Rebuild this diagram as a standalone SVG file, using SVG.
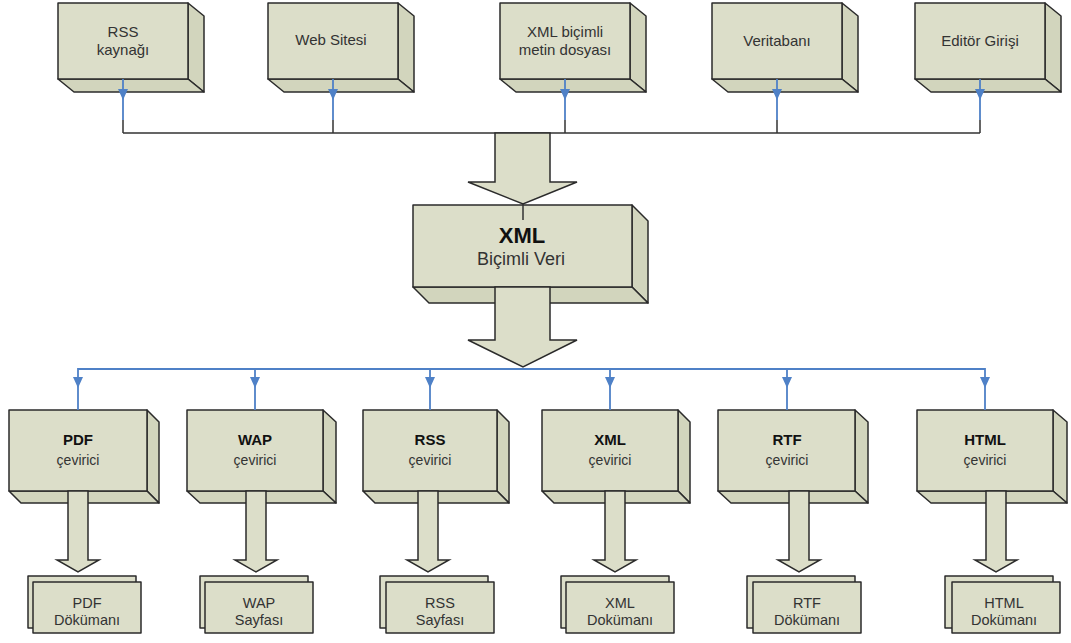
<svg xmlns="http://www.w3.org/2000/svg" width="1071" height="643" viewBox="0 0 1071 643">
<defs>
<style>
.f{fill:#dcdec9;stroke:#2b2b2b;stroke-width:1.5;stroke-linejoin:round}
.s{fill:#d2d5bd;stroke:#2b2b2b;stroke-width:1.5;stroke-linejoin:round}
.t{font-family:"Liberation Sans",Arial,sans-serif;font-size:15px;fill:#333;text-anchor:middle}
.d{font-family:"Liberation Sans",Arial,sans-serif;font-size:14.5px;fill:#333;text-anchor:middle}
.c{font-family:"Liberation Sans",Arial,sans-serif;font-size:14px;fill:#333;text-anchor:middle}
.b{font-family:"Liberation Sans",Arial,sans-serif;font-size:15px;font-weight:bold;fill:#111;text-anchor:middle}
.bl{stroke:#4f81c7;stroke-width:1.8;fill:none}
.k{stroke:#333;stroke-width:1.5;fill:none}
.ah{fill:#4f81c7}
.blk{fill:#dcdec9;stroke:#2b2b2b;stroke-width:1.5;stroke-linejoin:miter}
</style>
</defs>
<rect width="1071" height="643" fill="#fff"/>

<!-- Top source boxes -->
<g id="rss-kaynagi">
<polygon class="s" points="188,3 204,16 204,92 188,79"/>
<polygon class="s" points="58,79 188,79 204,92 74,92"/>
<rect class="f" x="58" y="3" width="130" height="76"/>
<text class="t" x="123" y="37">RSS</text>
<text class="t" x="123" y="55">kaynağı</text>
</g>
<g id="web-sitesi">
<polygon class="s" points="398,3 414,16 414,92 398,79"/>
<polygon class="s" points="268,79 398,79 414,92 284,92"/>
<rect class="f" x="268" y="3" width="130" height="76"/>
<text class="t" x="331" y="45">Web Sitesi</text>
</g>
<g id="xml-metin">
<polygon class="s" points="630,3 646,16 646,92 630,79"/>
<polygon class="s" points="500,79 630,79 646,92 516,92"/>
<rect class="f" x="500" y="3" width="130" height="76"/>
<text class="t" x="565" y="37">XML biçimli</text>
<text class="t" x="565" y="55">metin dosyası</text>
</g>
<g id="veritabani">
<polygon class="s" points="842,3 858,16 858,92 842,79"/>
<polygon class="s" points="712,79 842,79 858,92 728,92"/>
<rect class="f" x="712" y="3" width="130" height="76"/>
<text class="t" x="777" y="46">Veritabanı</text>
</g>
<g id="editor-girisi">
<polygon class="s" points="1045,3 1061,16 1061,92 1045,79"/>
<polygon class="s" points="915,79 1045,79 1061,92 931,92"/>
<rect class="f" x="915" y="3" width="130" height="76"/>
<text class="t" x="980" y="46">Editör Girişi</text>
</g>

<!-- Central XML box -->
<g id="xml-veri">
<polygon class="s" points="632,205 648,221 648,303 632,287"/>
<polygon class="s" points="413,287 632,287 648,303 429,303"/>
<rect class="f" x="413" y="205" width="219" height="82"/>
<text class="b" x="522" y="243" style="font-size:22px">XML</text>
<text class="t" x="521" y="265" style="font-size:18px">Biçimli Veri</text>
</g>

<!-- Converter boxes -->
<g id="pdf-cevirici">
<polygon class="s" points="147,410 159,422 159,503 147,491"/>
<polygon class="s" points="9,491 147,491 159,503 21,503"/>
<rect class="f" x="9" y="410" width="138" height="81"/>
<text class="b" x="78" y="445">PDF</text>
<text class="c" x="78" y="465">çevirici</text>
</g>
<g id="wap-cevirici">
<polygon class="s" points="323,410 336,422 336,503 323,491"/>
<polygon class="s" points="187,491 323,491 336,503 200,503"/>
<rect class="f" x="187" y="410" width="136" height="81"/>
<text class="b" x="255" y="445">WAP</text>
<text class="c" x="255" y="465">çevirici</text>
</g>
<g id="rss-cevirici">
<polygon class="s" points="497,410 509,422 509,503 497,491"/>
<polygon class="s" points="363,491 497,491 509,503 375,503"/>
<rect class="f" x="363" y="410" width="134" height="81"/>
<text class="b" x="430" y="445">RSS</text>
<text class="c" x="430" y="465">çevirici</text>
</g>
<g id="xml-cevirici">
<polygon class="s" points="678,410 690,422 690,503 678,491"/>
<polygon class="s" points="542,491 678,491 690,503 554,503"/>
<rect class="f" x="542" y="410" width="136" height="81"/>
<text class="b" x="610" y="445">XML</text>
<text class="c" x="610" y="465">çevirici</text>
</g>
<g id="rtf-cevirici">
<polygon class="s" points="855,410 868,422 868,503 855,491"/>
<polygon class="s" points="718,491 855,491 868,503 731,503"/>
<rect class="f" x="718" y="410" width="137" height="81"/>
<text class="b" x="787" y="445">RTF</text>
<text class="c" x="787" y="465">çevirici</text>
</g>
<g id="html-cevirici">
<polygon class="s" points="1053,410 1067,422 1067,503 1053,491"/>
<polygon class="s" points="917,491 1053,491 1067,503 931,503"/>
<rect class="f" x="917" y="410" width="136" height="81"/>
<text class="b" x="985" y="445">HTML</text>
<text class="c" x="985" y="465">çevirici</text>
</g>

<!-- Output documents -->
<g id="pdf-dokumani">
<rect class="f" x="28" y="576" width="108" height="52"/>
<rect class="f" x="33" y="582" width="108" height="51"/>
<text class="d" x="87" y="608">PDF</text>
<text class="d" x="87" y="625">Dökümanı</text>
</g>
<g id="wap-sayfasi">
<rect class="f" x="200" y="576" width="108" height="52"/>
<rect class="f" x="205" y="582" width="108" height="51"/>
<text class="d" x="259" y="608">WAP</text>
<text class="d" x="259" y="625">Sayfası</text>
</g>
<g id="rss-sayfasi">
<rect class="f" x="380" y="576" width="108" height="52"/>
<rect class="f" x="386" y="582" width="108" height="51"/>
<text class="d" x="440" y="608">RSS</text>
<text class="d" x="440" y="625">Sayfası</text>
</g>
<g id="xml-dokumani">
<rect class="f" x="561" y="576" width="108" height="52"/>
<rect class="f" x="566" y="582" width="108" height="51"/>
<text class="d" x="620" y="608">XML</text>
<text class="d" x="620" y="625">Dokümanı</text>
</g>
<g id="rtf-dokumani">
<rect class="f" x="747" y="576" width="108" height="52"/>
<rect class="f" x="753" y="582" width="108" height="51"/>
<text class="d" x="807" y="608">RTF</text>
<text class="d" x="807" y="625">Dökümanı</text>
</g>
<g id="html-dokumani">
<rect class="f" x="945" y="576" width="108" height="52"/>
<rect class="f" x="952" y="582" width="108" height="51"/>
<text class="d" x="1004" y="608">HTML</text>
<text class="d" x="1004" y="625">Dokümanı</text>
</g>

<!-- Connectors -->
<g id="connectors">
<path class="k" d="M123,133 H980 M123,120 V133 M333,120 V133 M565,120 V133 M777,120 V133 M980,120 V133"/>
<path class="bl" d="M123,79 V120 M333,79 V120 M565,79 V120 M777,79 V120 M980,79 V120"/>
<polygon class="ah" points="118,89 128,89 123,100"/>
<polygon class="ah" points="328,89 338,89 333,100"/>
<polygon class="ah" points="560,89 570,89 565,100"/>
<polygon class="ah" points="772,89 782,89 777,100"/>
<polygon class="ah" points="975,89 985,89 980,100"/>

<polygon class="blk" points="495,133 550,133 550,182 577,182 523,204 468,182 495,182"/>
<path class="k" d="M523,204 V220"/>
<polygon class="blk" points="495,287 550,287 550,340 577,340 523,367 468,340 495,340"/>

<path class="bl" d="M78,410 V369 H985 V410 M255,369 V410 M430,369 V410 M610,369 V410 M787,369 V410"/>
<polygon class="ah" points="73,377 83,377 78,388"/>
<polygon class="ah" points="250,377 260,377 255,388"/>
<polygon class="ah" points="425,377 435,377 430,388"/>
<polygon class="ah" points="605,377 615,377 610,388"/>
<polygon class="ah" points="782,377 792,377 787,388"/>
<polygon class="ah" points="980,377 990,377 985,388"/>

<polygon class="blk" points="68,491 88,491 88,560 99,560 78,572 57,560 68,560"/>
<polygon class="blk" points="246,491 266,491 266,560 277,560 256,572 235,560 246,560"/>
<polygon class="blk" points="418,491 438,491 438,560 449,560 428,572 407,560 418,560"/>
<polygon class="blk" points="605,491 625,491 625,560 636,560 615,572 594,560 605,560"/>
<polygon class="blk" points="789,491 809,491 809,560 820,560 799,572 778,560 789,560"/>
<polygon class="blk" points="986,491 1006,491 1006,560 1017,560 996,572 975,560 986,560"/>
</g>
</svg>
